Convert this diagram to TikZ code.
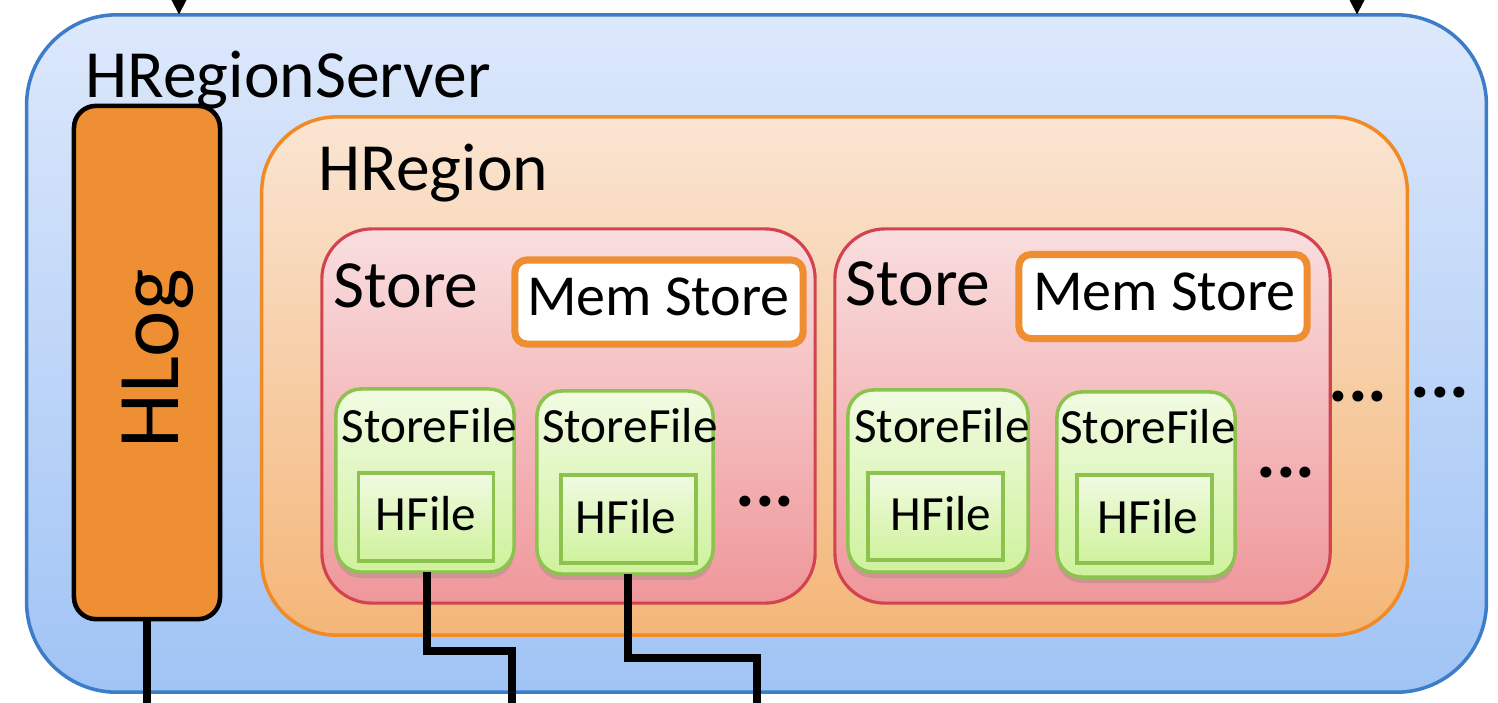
\documentclass[tikz,border=0pt]{standalone}
\usepackage{fontspec}
\setmainfont{Carlito}
\usetikzlibrary{arrows.meta,shadows}
\definecolor{srvtop}{HTML}{DDE8FB}
\definecolor{srvbot}{HTML}{A0C4F5}
\definecolor{srvline}{HTML}{3D7CC9}
\definecolor{hlogfill}{HTML}{EE8F33}
\definecolor{regtop}{HTML}{FAE5D3}
\definecolor{regbot}{HTML}{F4B678}
\definecolor{regline}{HTML}{F08A24}
\definecolor{sttop}{HTML}{F9DEDF}
\definecolor{stbot}{HTML}{EF979A}
\definecolor{stline}{HTML}{D2434F}
\definecolor{memline}{HTML}{EF8D31}
\definecolor{sftop}{HTML}{F1FBE2}
\definecolor{sfbot}{HTML}{CFF29D}
\definecolor{sfline}{HTML}{8DC24E}
\tikzset{
  box/.style={inner sep=0pt, outer sep=0pt},
  server/.style={box, draw=srvline, line width=1pt, top color=srvtop, bottom color=srvbot, rounded corners=0.9cm, minimum width=14.59cm, minimum height=6.77cm},
  hlog/.style={box, draw=black, line width=1.3pt, fill=hlogfill, rounded corners=0.22cm, minimum width=1.46cm, minimum height=5.13cm},
  region/.style={box, draw=regline, line width=1pt, top color=regtop, bottom color=regbot, rounded corners=0.75cm, minimum width=11.45cm, minimum height=5.18cm},
  store/.style={box, draw=stline, line width=0.9pt, top color=sttop, bottom color=stbot, rounded corners=0.5cm, minimum height=3.74cm},
  mem/.style={box, draw=memline, line width=2pt, fill=white, rounded corners=0.12cm, minimum width=2.88cm, minimum height=0.84cm},
  storefile/.style={box, draw=sfline, line width=1pt, top color=sftop, bottom color=sfbot, rounded corners=0.25cm, minimum width=1.78cm, minimum height=1.83cm, drop shadow={shadow xshift=0pt, shadow yshift=-0.06cm, opacity=0.3}},
  hfile/.style={box, draw=sfline, line width=1pt, top color=sftop, bottom color=sfbot, minimum width=1.35cm, minimum height=0.88cm},
  lbl/.style={inner sep=0pt, anchor=base west},
  big/.style={font=\fontsize{19.2}{23}\selectfont},
  memtxt/.style={inner sep=0pt, anchor=base, font=\fontsize{16.5}{20}\selectfont},
  sftxt/.style={inner sep=0pt, anchor=base, font=\fontsize{14}{17}\selectfont},
  dots/.style={inner sep=0pt, anchor=base, font=\bfseries\fontsize{21}{25}\selectfont},
  wire/.style={draw=black, line width=2.2pt},
}
\begin{document}
\begin{tikzpicture}[x=0.01cm, y=-0.01cm]
\useasboundingbox (0,0) rectangle (1498,702);
% outer server
\node[server] (srv) at (756.5,353.5) {};
% arrows at top
\coordinate (t1) at (179,-4);
\coordinate (t2) at (1357,-4);
\draw[line width=1.2pt, -{Triangle[width=0.15cm, length=0.16cm]}] (t1) -- (t1 |- srv.north);
\draw[line width=1.2pt, -{Triangle[width=0.15cm, length=0.16cm]}] (t2) -- (t2 |- srv.north);
\node[lbl, big] (srvlbl) at (85,97) {HRegionServer};
% HLog
\node[hlog] (hlog) at (147,362.5) {};
\node[inner sep=0pt, anchor=base, rotate=90, font=\fontsize{25}{30}\selectfont] (hlogtxt) at (178,359) {HLog};
% region
\node[region] (reg) at (834.5,376) {};
\node[lbl, big] (reglbl) at (318,190) {HRegion};
% stores
\node[store, minimum width=4.93cm] (st1) at (568.5,416) {};
\node[store, minimum width=4.95cm] (st2) at (1082.5,416) {};
\node[lbl, big] (st1lbl) at (333,307) {Store};
\node[lbl, big] (st2lbl) at (845,305) {Store};
% mem stores
\node[mem] (mem1) at (659,302) {};
\node[mem] (mem2) at (1163,296.5) {};
\node[memtxt] (mem1txt) at (658.5,315) {Mem Store};
\node[memtxt] (mem2txt) at (1164.5,310) {Mem Store};
% store files
\node[storefile] (sf1) at (425,480.5) {};
\node[storefile, minimum width=1.76cm] (sf2) at (625,482.5) {};
\node[storefile, minimum width=1.80cm, minimum height=1.82cm] (sf3) at (938,481) {};
\node[storefile, minimum height=1.85cm] (sf4) at (1146,484.5) {};
\node[hfile] (hf1) at (426,517) {};
\node[hfile] (hf2) at (628.5,519) {};
\node[hfile, minimum height=0.87cm] (hf3) at (935.5,516.5) {};
\node[hfile] (hf4) at (1144.5,519) {};
\node[sftxt] (sf1txt) at (429.5,442) {StoreFile};
\node[sftxt] (sf2txt) at (630,442) {StoreFile};
\node[sftxt] (sf3txt) at (942,442) {StoreFile};
\node[sftxt] (sf4txt) at (1148,443) {StoreFile};
\node[sftxt] (hf1txt) at (426,530) {HFile};
\node[sftxt] (hf2txt) at (626,533) {HFile};
\node[sftxt] (hf3txt) at (941,530) {HFile};
\node[sftxt] (hf4txt) at (1148,533) {HFile};
% dots
\node[dots] (d1) at (765,506) {...};
\node[dots] (d2) at (1286,477) {...};
\node[dots] (d3) at (1358,401) {...};
\node[dots] (d4) at (1440,397) {...};
% wires
\coordinate (b0) at (147,706);
\coordinate (k1) at (512,651);
\coordinate (b1) at (512,706);
\coordinate (k2) at (757,658);
\coordinate (b2) at (757,706);
\draw[wire] (hlog.south) -- (b0);
\draw[wire] ([xshift=0.02cm]sf1.south) |- (k1) -- (b1);
\draw[wire] ([xshift=0.03cm]sf2.south) |- (k2) -- (b2);
\end{tikzpicture}
\end{document}
